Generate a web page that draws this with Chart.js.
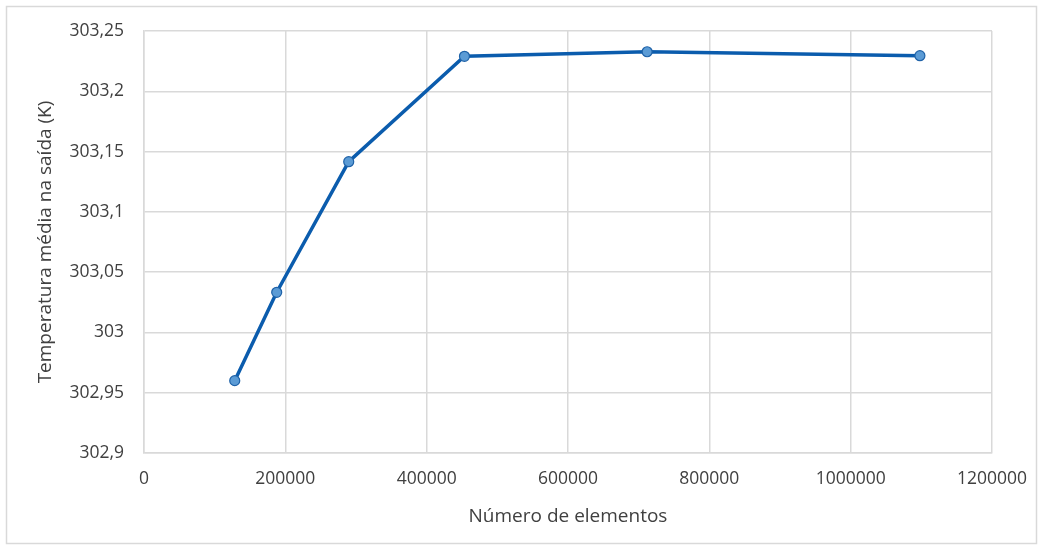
<!DOCTYPE html>
<html>
<head>
<meta charset="utf-8">
<script src="https://cdn.jsdelivr.net/npm/chart.js@4"></script>
<style>
  html, body { margin: 0; padding: 0; background: #fff; }
  #wrap { width: 1043px; height: 550px; position: relative; }
</style>
</head>
<body>
<div id="wrap"><canvas id="meshChart"></canvas></div>
<script>
// === DATA ===
const elementCounts = [128400, 187800, 289700, 453500, 712000, 1098000];
const outletTemps = [302.960, 303.0333, 303.1416, 303.229, 303.2328, 303.2295];

const GRID = '#d9d9d9';
const TEXT = '#404040';
const FONT = 'Open Sans, Liberation Sans, sans-serif';

const frame = {
    id: 'frame',
    beforeDraw(chart) {
        const c = chart.ctx;
        c.save();
        c.strokeStyle = GRID;
        c.lineWidth = 1.5;
        c.strokeRect(6.5, 6.5, 1030, 537);
        c.restore();
    }
};

const fmtY = v => Number(v.toFixed(2)).toString().replace('.', ',');

const ctx = document.getElementById('meshChart').getContext('2d');
new Chart(ctx, {
    type: 'scatter',
    data: {
        datasets: [{
            data: elementCounts.map((x, i) => ({ x, y: outletTemps[i] })),
            showLine: true,
            borderColor: '#0b5cad',
            borderWidth: 3.5,
            pointRadius: 5,
            pointBackgroundColor: '#5b9bd5',
            pointBorderColor: '#1f62a8',
            pointBorderWidth: 1.2
        }]
    },
    options: {
        responsive: true, maintainAspectRatio: false, animation: false,
        layout: { padding: { left: 34, top: 31, right: 51, bottom: 22 } },
        plugins: { legend: { display: false }, tooltip: { enabled: false } },
        scales: {
            x: {
                type: 'linear', min: 0, max: 1200000,
                grid: { color: GRID, lineWidth: 1.5, drawTicks: false },
                border: { color: GRID, width: 1.5 },
                ticks: { stepSize: 200000, color: TEXT, font: { family: FONT, size: 17.5 }, padding: 16, maxRotation: 0, callback: v => String(v) },
                title: { display: true, text: 'Número de elementos', color: TEXT, font: { family: FONT, size: 19 }, padding: 0 },
                afterFit: s => { s.height = 75; }
            },
            y: {
                min: 302.9, max: 303.25,
                grid: { color: GRID, lineWidth: 1.5, drawTicks: false },
                border: { color: GRID, width: 1.5 },
                ticks: { stepSize: 0.05, color: TEXT, font: { family: FONT, size: 17.5 }, padding: 20, callback: fmtY },
                title: { display: true, text: 'Temperatura média na saída (K)', color: TEXT, font: { family: FONT, size: 19 }, padding: 0 },
                afterFit: s => { s.width = 110; }
            }
        }
    },
    plugins: [frame]
});
</script>
</body>
</html>
